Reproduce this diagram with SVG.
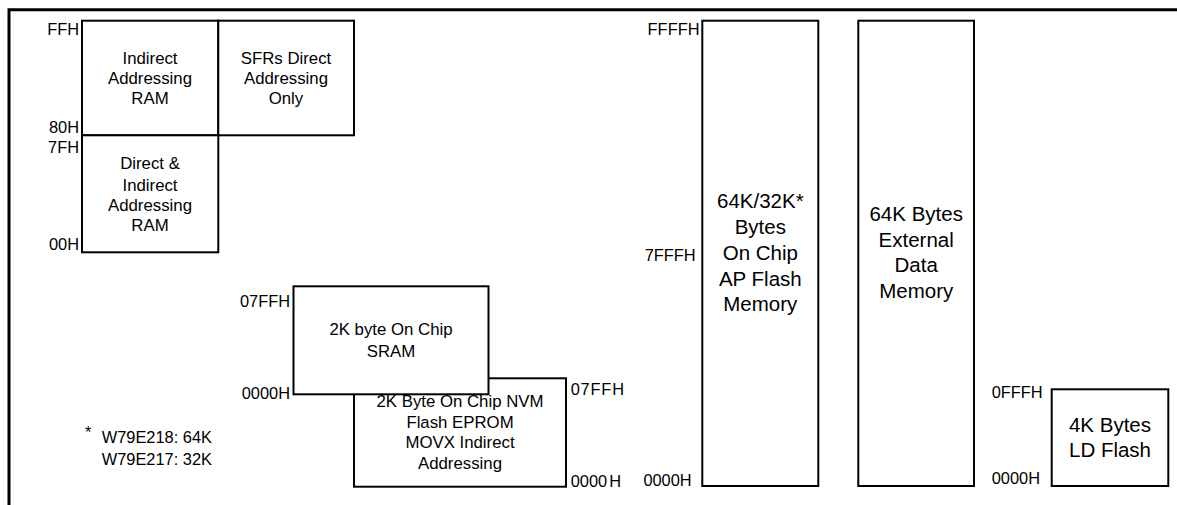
<svg xmlns="http://www.w3.org/2000/svg" width="1177" height="505" viewBox="0 0 1177 505">
<style>
  .box { fill: #fff; stroke: #000; stroke-width: 2; }
  .t { font-family: "Liberation Sans", Arial, sans-serif; font-size: 16.8px; fill: #000; text-anchor: middle; }
  .big { font-family: "Liberation Sans", Arial, sans-serif; font-size: 20.5px; fill: #000; text-anchor: middle; }
  .lbl { font-family: "Liberation Sans", Arial, sans-serif; font-size: 16.4px; fill: #000; text-anchor: end; }
  .lbls { font-family: "Liberation Sans", Arial, sans-serif; font-size: 16.4px; fill: #000; text-anchor: start; }
  .frame { fill: none; stroke: #000; stroke-width: 3; }
</style>
<rect width="1177" height="505" fill="#fff"/>
<path class="frame" d="M9 505 V9.7 H1177"/>

<g id="indirect-ram">
  <rect class="box" x="82" y="20.7" width="136.3" height="114.6"/>
  <text class="t" x="150" y="64.3">Indirect</text>
  <text class="t" x="150" y="84.3">Addressing</text>
  <text class="t" x="150" y="104.3">RAM</text>
</g>
<g id="sfr">
  <rect class="box" x="218.3" y="20.7" width="135.7" height="114.6"/>
  <text class="t" x="286" y="64.3">SFRs Direct</text>
  <text class="t" x="286" y="84.3">Addressing</text>
  <text class="t" x="286" y="104.3">Only</text>
</g>
<g id="direct-ram">
  <rect class="box" x="82" y="135.3" width="136.3" height="117"/>
  <text class="t" x="150" y="169.3">Direct &amp;</text>
  <text class="t" x="150" y="190.7">Indirect</text>
  <text class="t" x="150" y="210.7">Addressing</text>
  <text class="t" x="150" y="231">RAM</text>
</g>
<g id="ram-labels">
  <text class="lbl" x="79" y="35">FFH</text>
  <text class="lbl" x="79" y="133">80H</text>
  <text class="lbl" x="79" y="153">7FH</text>
  <text class="lbl" x="79" y="250">00H</text>
</g>

<g id="nvm">
  <rect class="box" x="354" y="378.3" width="212" height="108.4"/>
  <text class="t" x="460" y="407">2K Byte On Chip NVM</text>
  <text class="t" x="460" y="427.5">Flash EPROM</text>
  <text class="t" x="460" y="448.3">MOVX Indirect</text>
  <text class="t" x="460" y="468.5">Addressing</text>
  <text class="lbls" x="570.7" y="395" letter-spacing="0.8">07FFH</text>
  <text class="lbls" x="570.7" y="486.7">0000<tspan dx="2">H</tspan></text>
</g>
<g id="sram">
  <rect class="box" x="293.5" y="286.3" width="195" height="108"/>
  <text class="t" x="391" y="335">2K byte On Chip</text>
  <text class="t" x="391" y="356.7">SRAM</text>
  <text class="lbl" x="290" y="307">07FFH</text>
  <text class="lbl" x="290" y="399">0000H</text>
</g>

<g id="footnote">
  <text class="lbls" x="85" y="438" font-size="14">*</text>
  <text class="lbls" x="101.7" y="443.3">W79E218: 64K</text>
  <text class="lbls" x="101.7" y="465">W79E217: 32K</text>
</g>

<g id="ap-flash">
  <rect class="box" x="702.3" y="20.7" width="116" height="465.3"/>
  <text class="big" x="760.3" y="208.3">64K/32K*</text>
  <text class="big" x="760.3" y="234.3">Bytes</text>
  <text class="big" x="760.3" y="260.3">On Chip</text>
  <text class="big" x="760.3" y="286">AP Flash</text>
  <text class="big" x="760.3" y="310.5">Memory</text>
  <text class="lbl" x="699.5" y="35">FFFFH</text>
  <text class="lbl" x="695.7" y="261">7FFFH</text>
  <text class="lbl" x="691.7" y="485.7">0000H</text>
</g>

<g id="ext-data">
  <rect class="box" x="858.3" y="20.7" width="115.7" height="465.3"/>
  <text class="big" x="916.2" y="220.7">64K Bytes</text>
  <text class="big" x="916.2" y="246.7">External</text>
  <text class="big" x="916.2" y="272.3">Data</text>
  <text class="big" x="916.2" y="298.3">Memory</text>
</g>

<g id="ld-flash">
  <rect class="box" x="1051.7" y="389.3" width="116.6" height="96.7"/>
  <text class="big" x="1110" y="431.7">4K Bytes</text>
  <text class="big" x="1110" y="456.7">LD Flash</text>
  <text class="lbl" x="1042.7" y="398.3">0FFFH</text>
  <text class="lbl" x="1040" y="484">0000H</text>
</g>

<g id="connectors"></g>
</svg>
